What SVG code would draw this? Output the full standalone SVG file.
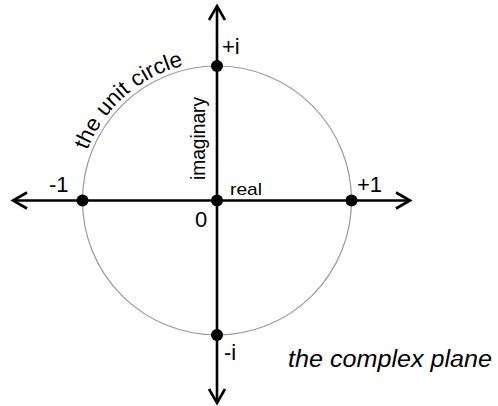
<svg xmlns="http://www.w3.org/2000/svg" xmlns:xlink="http://www.w3.org/1999/xlink" width="498" height="406" viewBox="0 0 498 406">
<style>
.lbl{font-family:"Liberation Sans",Arial,sans-serif;fill:#000}
.axis{stroke:#000;stroke-width:2.6;fill:none}
.dot{fill:#000}
</style>
<defs>
<marker id="arr" markerUnits="userSpaceOnUse" markerWidth="20" markerHeight="20" viewBox="-16 -10 18 20" refX="0" refY="0" orient="auto" overflow="visible">
<path d="M-14,-8 L0,0 L-14,8" fill="none" stroke="#000" stroke-width="2.6" stroke-linejoin="miter"/>
</marker>
<path id="arcPath" d="M 82.7,164.5 A 139 139 0 0 1 217,61.5"/>
</defs>
<rect width="498" height="406" fill="#fff"/>
<g id="unit-circle">
<circle cx="217" cy="200.5" r="134.5" fill="none" stroke="#9a9a9a" stroke-width="1.2"/>
<text class="lbl" font-size="22"><textPath xlink:href="#arcPath" startOffset="15" textLength="133" lengthAdjust="spacingAndGlyphs">the unit circle</textPath></text>
</g>
<g id="connectors">
<line id="real-axis-right" class="axis" x1="217" y1="200.5" x2="410" y2="200.5" marker-end="url(#arr)"/>
<line id="real-axis-left" class="axis" x1="217" y1="200.5" x2="13" y2="200.5" marker-end="url(#arr)"/>
<line id="imag-axis-up" class="axis" x1="217" y1="200.5" x2="217" y2="6" marker-end="url(#arr)"/>
<line id="imag-axis-down" class="axis" x1="217" y1="200.5" x2="217" y2="403" marker-end="url(#arr)"/>
</g>
<g id="origin">
<circle class="dot" cx="217" cy="200.5" r="6"/>
<text class="lbl" x="195" y="227" font-size="22">0</text>
</g>
<g id="plus-one">
<circle class="dot" cx="351.5" cy="200.5" r="6"/>
<text class="lbl" x="357" y="192" font-size="22">+1</text>
</g>
<g id="minus-one">
<circle class="dot" cx="82.5" cy="200.5" r="6"/>
<text class="lbl" x="49" y="192" font-size="22">-1</text>
</g>
<g id="plus-i">
<circle class="dot" cx="217" cy="66" r="6"/>
<text class="lbl" x="222" y="54" font-size="22">+i</text>
</g>
<g id="minus-i">
<circle class="dot" cx="217" cy="335" r="6"/>
<text class="lbl" x="224" y="360" font-size="22">-i</text>
</g>
<g id="axis-labels">
<text class="lbl" x="230" y="195" font-size="17" textLength="32" lengthAdjust="spacingAndGlyphs">real</text>
<text class="lbl" transform="translate(205,180) rotate(-90)" font-size="19.5" textLength="83" lengthAdjust="spacingAndGlyphs">imaginary</text>
</g>
<g id="title">
<text class="lbl" x="288" y="367" font-size="23" font-style="italic" textLength="204" lengthAdjust="spacingAndGlyphs">the complex plane</text>
</g>
</svg>
